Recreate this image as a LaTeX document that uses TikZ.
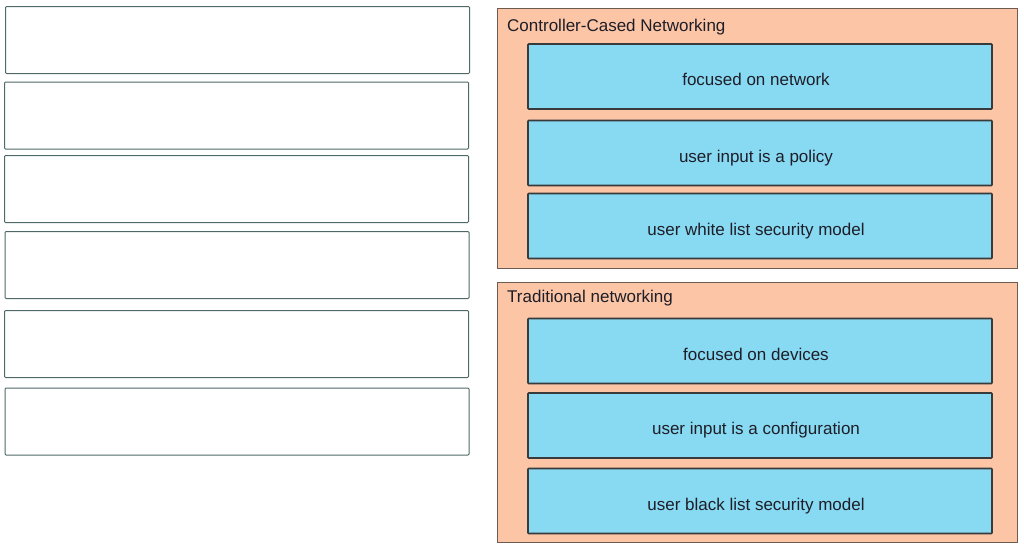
\documentclass[tikz,border=0pt]{standalone}
\usepackage{fontspec}
\setmainfont{Liberation Sans}
\usepackage{xcolor}
\usetikzlibrary{positioning}
\definecolor{bg}{HTML}{FFFFFF}
\definecolor{slotline}{HTML}{4F6968}
\definecolor{panelbg}{HTML}{FCC5A6}
\definecolor{panelline}{HTML}{6E5C52}
\definecolor{cardbg}{HTML}{88D9F2}
\definecolor{cardline}{HTML}{383A3C}
\definecolor{ink}{HTML}{1E1E28}
\tikzset{
  slot/.style={draw=slotline, fill=white, line width=1pt, rounded corners=1pt, minimum width=464pt, minimum height=67pt, inner sep=0pt},
  panel/.style={draw=panelline, fill=panelbg, line width=1pt},
  card/.style={draw=cardline, fill=cardbg, line width=1.6pt, rounded corners=0.8pt, minimum width=464pt, minimum height=65pt, inner sep=0pt, text height=18pt, text depth=0pt, execute at begin node=\hspace*{-8pt}, text=ink, font=\fontsize{17}{20}\selectfont},
  title/.style={text=ink, anchor=west, inner sep=0pt, font=\fontsize{17}{20}\selectfont},
}
\begin{document}
\begin{tikzpicture}[x=1pt,y=-1pt]
  \useasboundingbox[fill=bg] (0,0) rectangle (1024,550);
  % empty answer slots
  \node[slot] (slotA) at (237.5,40) {};
  \node[slot] (slotB) at (236.5,115.5) {};
  \node[slot] (slotC) at (236.5,189) {};
  \node[slot] (slotD) at (237,265) {};
  \node[slot] (slotE) at (236.5,344) {};
  \node[slot] (slotF) at (237,421.5) {};
  % controller-based panel
  \draw[panel] (497,8) rectangle (1017,268);
  \node[title] (ctrltitle) at (507,27) {Controller-Cased Networking};
  \node[card] (ctrlA) at (760,76.5) {focused on network};
  \node[card] (ctrlB) at (760,153) {user input is a policy};
  \node[card] (ctrlC) at (760,226) {user white list security model};
  % traditional panel
  \draw[panel] (497,282) rectangle (1017,542);
  \node[title] (tradtitle) at (507,298) {Traditional networking};
  \node[card] (tradA) at (760,351) {focused on devices};
  \node[card] (tradB) at (760,425.5) {user input is a configuration};
  \node[card] (tradC) at (760,501) {user black list security model};
\end{tikzpicture}
\end{document}
